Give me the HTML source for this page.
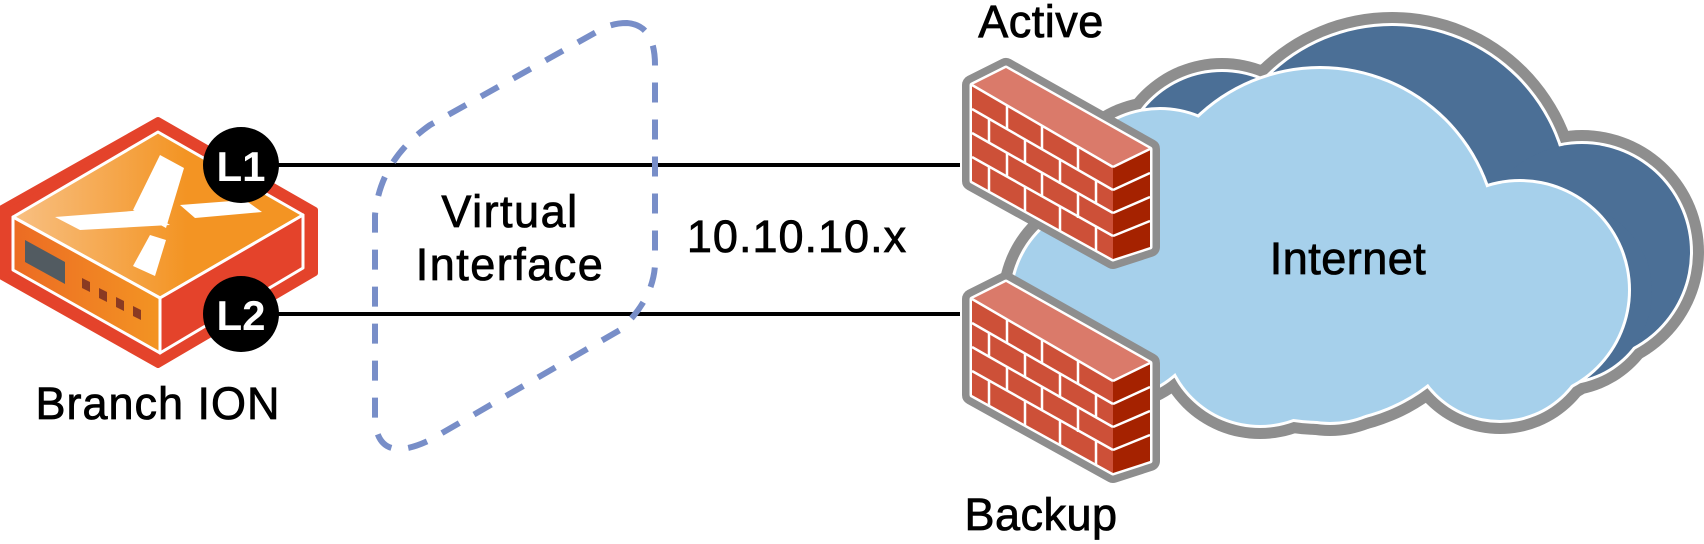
<!DOCTYPE html>
<html><head><meta charset="utf-8"><style>
html,body{margin:0;padding:0;background:#fff;}
svg{display:block;}
text{font-family:"Liberation Sans",sans-serif;fill:#000;}
</style></head><body>
<svg width="1704" height="544" viewBox="0 0 1704 544" xmlns="http://www.w3.org/2000/svg">
<defs>
<linearGradient id="gt" x1="0" x2="1" y1="0" y2="0"><stop offset="0" stop-color="#f8c083"/><stop offset="0.6" stop-color="#f39423"/></linearGradient>
<linearGradient id="gl" x1="0" x2="1" y1="0" y2="0"><stop offset="0" stop-color="#ec6b23"/><stop offset="1" stop-color="#f39423"/></linearGradient>
</defs>

<line x1="270" y1="165" x2="960" y2="165" stroke="#000" stroke-width="4"/>
<line x1="270" y1="314" x2="960" y2="314" stroke="#000" stroke-width="4"/>

<!-- router -->
<polygon points="2,208 158,120 315,210 315,273 158,365 2,277" fill="#e4432b" stroke="#e4432b" stroke-width="6" stroke-linejoin="round"/>
<polygon points="13,217 158,132 303,215 160,298" fill="url(#gt)" stroke="#fff" stroke-width="3" stroke-linejoin="round"/>
<polygon points="13,217 160,298 160,353 13,270" fill="url(#gl)" stroke="#fff" stroke-width="3" stroke-linejoin="round"/>
<polygon points="160,298 303,215 303,268 160,353" fill="#e4432b" stroke="#fff" stroke-width="3" stroke-linejoin="round"/>
<polygon points="25,240 65,262 65,284 25,262" fill="#525b61"/>
<polygon points="82,278 90,282 90,292 82,288" fill="#8a3a22"/>
<polygon points="99,288 107,292 107,302 99,298" fill="#8a3a22"/>
<polygon points="116,297 124,301 124,311 116,307" fill="#8a3a22"/>
<polygon points="133,306 141,310 141,320 133,316" fill="#8a3a22"/>
<polygon points="160,155 184,168 166,228 133,210" fill="#fff"/>
<polygon points="55,217 145,210 170,225 80,230" fill="#fff"/>
<polygon points="180,205 245,200 262,212 195,218" fill="#fff"/>
<polygon points="150,235 166,240 155,276 133,266" fill="#fff"/>

<circle cx="241" cy="165" r="38" fill="#000"/>
<text x="241" y="181" font-size="42" font-weight="bold" text-anchor="middle" style="fill:#fff">L1</text>
<circle cx="241" cy="314" r="38" fill="#000"/>
<text x="241" y="330" font-size="42" font-weight="bold" text-anchor="middle" style="fill:#fff">L2</text>

<text x="158" y="419" font-size="45" text-anchor="middle" letter-spacing="1" stroke="#000" stroke-width="0.8">Branch ION</text>

<path d="M627 23 Q655 25 655 65 L655 265 Q653 300 620 330 L430 440 Q378 465 375 420 L375 215 Q380 160 430 125 L600 30 Q612 23 627 23 Z" fill="none" stroke="#788ec8" stroke-width="6" stroke-dasharray="20 17"/>
<text x="510" y="227" font-size="45" text-anchor="middle" letter-spacing="1.5" stroke="#000" stroke-width="0.8">Virtual</text>
<text x="510" y="280" font-size="45" text-anchor="middle" letter-spacing="1.5" stroke="#000" stroke-width="0.8">Interface</text>

<text x="797" y="252" font-size="45" text-anchor="middle" letter-spacing="1" stroke="#000" stroke-width="0.8">10.10.10.x</text>

<!-- cloud -->
<g fill="#8e8e8e">
  <g transform="translate(62,-38)">
    <circle cx="1330" cy="240" r="190"/><circle cx="1520" cy="290" r="122"/><circle cx="1160" cy="210" r="114"/><circle cx="1500" cy="330" r="104"/>
  </g>
  <circle cx="1320" cy="245" r="190"/><circle cx="1520" cy="290" r="122"/><circle cx="1160" cy="210" r="114"/><circle cx="1110" cy="300" r="112"/><circle cx="1260" cy="330" r="109"/><circle cx="1330" cy="330" r="106"/><circle cx="1500" cy="330" r="104"/>
</g>
<g transform="translate(62,-38)">
  <g fill="#fff"><circle cx="1330" cy="240" r="179"/><circle cx="1520" cy="290" r="111"/><circle cx="1160" cy="210" r="103"/><circle cx="1500" cy="330" r="93"/></g>
  <g fill="#4b6f96"><circle cx="1330" cy="240" r="176"/><circle cx="1520" cy="290" r="108"/><circle cx="1160" cy="210" r="100"/><circle cx="1500" cy="330" r="90"/></g>
</g>
<g fill="#fff"><circle cx="1320" cy="245" r="179"/><circle cx="1520" cy="290" r="111"/><circle cx="1160" cy="210" r="103"/><circle cx="1110" cy="300" r="101"/><circle cx="1260" cy="330" r="98"/><circle cx="1330" cy="330" r="95"/><circle cx="1500" cy="330" r="93"/></g>
<g fill="#a6d0eb"><circle cx="1320" cy="245" r="176"/><circle cx="1520" cy="290" r="108"/><circle cx="1160" cy="210" r="100"/><circle cx="1110" cy="300" r="98"/><circle cx="1260" cy="330" r="95"/><circle cx="1330" cy="330" r="92"/><circle cx="1500" cy="330" r="90"/></g>
<text x="1348" y="274" font-size="45" text-anchor="middle" letter-spacing="0.5" stroke="#000" stroke-width="0.8">Internet</text>

<!-- firewalls -->
<g id="fw">
  <polygon points="972,85 1006,68 1150,149 1150,247 1113,259 972,181" fill="#8e8e8e" stroke="#8e8e8e" stroke-width="20" stroke-linejoin="round"/>
  <polygon points="972,85 1006,68 1150,149 1150,247 1113,259 972,181" fill="#fff" stroke="#fff" stroke-width="5" stroke-linejoin="round"/>
  <polygon points="972,85 1006,68 1150,149 1113,167" fill="#da7a6a"/>
  <polygon points="972,85 1113,167 1113,259 972,181" fill="#cd5038"/>
  <polygon points="1113,167 1150,149 1150,247 1113,259" fill="#a52200"/>
  <g stroke="#fff" stroke-width="2.5" fill="none">
    <line x1="972" y1="85" x2="1113" y2="167"/>
    <line x1="1113" y1="167" x2="1150" y2="149"/>
    <line x1="972" y1="109" x2="1113" y2="190"/>
    <line x1="972" y1="133" x2="1113" y2="213"/>
    <line x1="972" y1="157" x2="1113" y2="236"/>
    <line x1="1113" y1="190" x2="1150" y2="173"/>
    <line x1="1113" y1="213" x2="1150" y2="197"/>
    <line x1="1113" y1="236" x2="1150" y2="221"/>
    <line x1="1007" y1="105" x2="1007" y2="129"/><line x1="1042" y1="126" x2="1042" y2="150"/><line x1="1078" y1="146" x2="1078" y2="170"/>
    <line x1="989" y1="119" x2="989" y2="143"/><line x1="1025" y1="139" x2="1025" y2="163"/><line x1="1060" y1="160" x2="1060" y2="184"/><line x1="1096" y1="180" x2="1096" y2="204"/>
    <line x1="1007" y1="153" x2="1007" y2="177"/><line x1="1042" y1="173" x2="1042" y2="197"/><line x1="1078" y1="194" x2="1078" y2="218"/>
    <line x1="989" y1="167" x2="989" y2="191"/><line x1="1025" y1="187" x2="1025" y2="211"/><line x1="1060" y1="207" x2="1060" y2="231"/><line x1="1096" y1="227" x2="1096" y2="251"/>
  </g>
</g>
<use href="#fw" transform="translate(0,214)"/>

<text x="1041" y="37" font-size="45" text-anchor="middle" letter-spacing="0.5" stroke="#000" stroke-width="0.8">Active</text>
<text x="1041" y="530" font-size="45" text-anchor="middle" letter-spacing="0.5" stroke="#000" stroke-width="0.8">Backup</text>
</svg>
</body></html>
